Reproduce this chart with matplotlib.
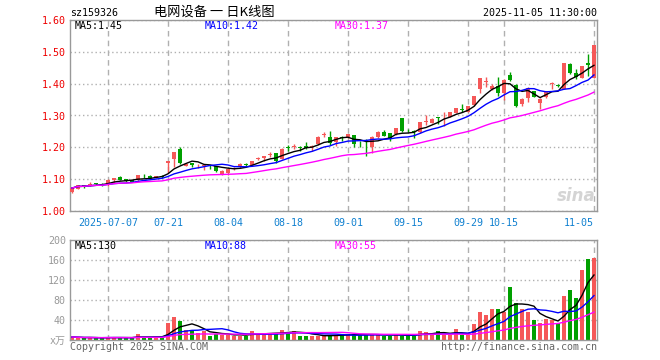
import numpy as np
import pandas as pd
import matplotlib
matplotlib.use("Agg")
import matplotlib.pyplot as plt

# trading days (National Day holiday 10-01..10-08 closed)
days = pd.bdate_range("2025-06-27", "2025-11-05")
days = days[(days < "2025-10-01") | (days > "2025-10-08")]

opens = [1.061, 1.070, 1.080, 1.083, 1.086, 1.085, 1.086, 1.096, 1.108, 1.101,
         1.096, 1.096, 1.111, 1.110, 1.105, 1.110, 1.150, 1.163, 1.194, 1.142,
         1.150, 1.143, 1.142, 1.145, 1.141, 1.117, 1.120, 1.133, 1.137, 1.149,
         1.143, 1.164, 1.166, 1.176, 1.181, 1.164, 1.201, 1.201, 1.200, 1.205,
         1.200, 1.210, 1.240, 1.231, 1.216, 1.232, 1.231, 1.239, 1.208, 1.205,
         1.200, 1.231, 1.249, 1.245, 1.242, 1.292, 1.255, 1.250, 1.247, 1.279,
         1.278, 1.294, 1.297, 1.296, 1.309, 1.321, 1.312, 1.332, 1.382, 1.406,
         1.382, 1.393, 1.372, 1.427, 1.395, 1.335, 1.356, 1.376, 1.340, 1.358,
         1.399, 1.396, 1.383, 1.463, 1.432, 1.419, 1.466, 1.419]
highs = [1.074, 1.083, 1.082, 1.090, 1.088, 1.087, 1.099, 1.105, 1.111, 1.102,
         1.097, 1.114, 1.115, 1.112, 1.110, 1.112, 1.157, 1.186, 1.201, 1.152,
         1.151, 1.148, 1.146, 1.146, 1.142, 1.128, 1.133, 1.137, 1.150, 1.150,
         1.158, 1.169, 1.174, 1.184, 1.182, 1.198, 1.207, 1.210, 1.205, 1.218,
         1.207, 1.236, 1.247, 1.252, 1.233, 1.237, 1.243, 1.240, 1.220, 1.226,
         1.236, 1.250, 1.255, 1.246, 1.261, 1.293, 1.258, 1.255, 1.281, 1.301,
         1.291, 1.296, 1.311, 1.312, 1.324, 1.335, 1.331, 1.362, 1.418, 1.422,
         1.398, 1.420, 1.414, 1.437, 1.400, 1.355, 1.390, 1.378, 1.355, 1.376,
         1.404, 1.400, 1.465, 1.465, 1.445, 1.456, 1.492, 1.521]
lows = [1.058, 1.068, 1.072, 1.080, 1.081, 1.080, 1.080, 1.088, 1.097, 1.092,
        1.090, 1.094, 1.104, 1.101, 1.103, 1.104, 1.118, 1.138, 1.147, 1.140,
        1.137, 1.134, 1.130, 1.133, 1.122, 1.114, 1.112, 1.130, 1.136, 1.140,
        1.141, 1.160, 1.158, 1.169, 1.150, 1.162, 1.190, 1.195, 1.190, 1.195,
        1.190, 1.208, 1.231, 1.208, 1.205, 1.221, 1.229, 1.200, 1.200, 1.174,
        1.183, 1.229, 1.235, 1.220, 1.240, 1.249, 1.248, 1.228, 1.245, 1.270,
        1.276, 1.273, 1.268, 1.294, 1.307, 1.312, 1.310, 1.330, 1.370, 1.388,
        1.380, 1.360, 1.350, 1.408, 1.328, 1.330, 1.343, 1.357, 1.320, 1.355,
        1.383, 1.388, 1.382, 1.430, 1.414, 1.418, 1.424, 1.418]
closes = [1.072, 1.082, 1.079, 1.085, 1.085, 1.083, 1.098, 1.104, 1.098, 1.093,
          1.092, 1.113, 1.109, 1.104, 1.109, 1.106, 1.156, 1.185, 1.150, 1.149,
          1.143, 1.145, 1.145, 1.142, 1.127, 1.127, 1.132, 1.135, 1.149, 1.143,
          1.158, 1.167, 1.172, 1.178, 1.158, 1.195, 1.199, 1.203, 1.198, 1.199,
          1.203, 1.234, 1.243, 1.213, 1.231, 1.230, 1.242, 1.210, 1.206, 1.203,
          1.234, 1.249, 1.236, 1.226, 1.260, 1.250, 1.253, 1.247, 1.280, 1.281,
          1.290, 1.293, 1.300, 1.311, 1.323, 1.318, 1.330, 1.361, 1.417, 1.409,
          1.393, 1.372, 1.413, 1.411, 1.330, 1.353, 1.386, 1.359, 1.353, 1.375,
          1.401, 1.393, 1.464, 1.432, 1.421, 1.455, 1.460, 1.520]
volumes = [6, 5, 4, 5, 4, 4, 6, 5, 5, 4,
           4, 12, 5, 5, 5, 5, 35, 47, 39, 20,
           20, 15, 19, 8, 12, 11, 11, 9, 9, 9,
           18, 12, 14, 12, 12, 20, 17, 19, 9, 8,
           8, 9, 9, 9, 10, 10, 12, 12, 10, 10,
           11, 11, 9, 9, 11, 9, 9, 9, 18, 16,
           11, 18, 11, 11, 22, 10, 11, 32, 56, 50,
           62, 62, 56, 106, 74, 62, 56, 40, 34, 42,
           40, 34, 88, 100, 84, 140, 162, 164]

tick_dates = ["2025-07-07", "2025-07-21", "2025-08-04", "2025-08-18", "2025-09-01",
              "2025-09-15", "2025-09-29", "2025-10-15", "2025-11-05"]
tick_labels = ["2025-07-07", "07-21", "08-04", "08-18", "09-01",
               "09-15", "09-29", "10-15", "11-05"]

RED = "#f55858"
GREEN = "#00a000"
GRID = "#b0b0b0"
MONO = ["DejaVu Sans Mono", "Noto Sans CJK SC"]

df = pd.DataFrame({"o": opens, "h": highs, "l": lows, "c": closes, "v": volumes}, index=days)
x = np.arange(len(df))
up = df.c >= df.o
colors = np.where(up, RED, GREEN)

ma = {n: df.c.rolling(n, min_periods=1).mean() for n in (5, 10, 30)}
vma = {n: df.v.rolling(n, min_periods=1).mean() for n in (5, 10, 30)}
ma_colors = {5: "black", 10: "#0000ff", 30: "#ff00ff"}


def trunc(v, nd):
    f = 10 ** nd
    return np.floor(v * f + 1e-9) / f


fig = plt.figure(figsize=(6.6, 3.6), dpi=100)
W, H = 660.0, 360.0
ax = fig.add_axes([70 / W, 1 - 211 / H, 527 / W, 191 / H])
axv = fig.add_axes([70 / W, 1 - 340 / H, 527 / W, 100 / H])

tick_pos = [days.get_loc(pd.Timestamp(d)) for d in tick_dates]
xlim = (-0.33, len(df) - 0.5)

for a in (ax, axv):
    a.set_xlim(*xlim)
    for s in a.spines.values():
        s.set_color("#999999")
        s.set_linewidth(1)
    a.set_xticks(tick_pos)
    a.tick_params(length=0)
    a.xaxis.grid(True, linestyle=(0, (4, 3)), color=GRID, lw=1)
    a.yaxis.grid(True, linestyle=(0, (1, 2)), color=GRID, lw=1)
    a.set_axisbelow(True)

# candles
body = np.maximum((df.c - df.o).abs(), 0.0025)
ax.vlines(x, df.l, df.h, colors=colors, lw=1, zorder=2)
ax.bar(x, body, bottom=np.minimum(df.o, df.c), width=0.8, color=colors, lw=0, zorder=3)
for n in (5, 10, 30):
    ax.plot(x, ma[n], color=ma_colors[n], lw=1, zorder=4)

ax.set_ylim(1.0, 1.6)
ax.set_yticks(np.round(np.arange(1.0, 1.61, 0.1), 2))
ax.set_yticklabels([f"{v:.2f}" for v in ax.get_yticks()], color="#ee0000",
                   family=MONO, fontsize=7.2)
ax.tick_params(axis="y", pad=3)
ax.set_xticklabels(tick_labels, color="#1080d0", family=MONO, fontsize=7.2)
ax.tick_params(axis="x", pad=5)
ax.get_xticklabels()[-1].set_horizontalalignment("right")
ax.get_xticklabels()[-1].set_x(tick_pos[-1] + 0.5)

# volume
axv.bar(x, df.v, width=0.8, color=colors, lw=0, zorder=2)
for n in (5, 10, 30):
    axv.plot(x, vma[n], color=ma_colors[n], lw=1, zorder=3)
axv.set_ylim(0, 200)
axv.set_yticks([0, 40, 80, 120, 160, 200])
axv.set_yticklabels(["x万", "40", "80", "120", "160", "200"], color="#999999",
                    family=MONO, fontsize=7.2)
axv.tick_params(axis="y", pad=3)
axv.set_xticklabels([])

# header texts
fig.text(70 / W, 1 - 13 / H, "sz159326", family=MONO, fontsize=7.2, va="center")
fig.text(214 / W, 1 - 12 / H, "电网设备 一 日K线图", family=["Noto Sans CJK SC", "DejaVu Sans"],
         fontsize=9.5, ha="center", va="center")
fig.text(597 / W, 1 - 13 / H, df.index[-1].strftime("%Y-%m-%d") + " 11:30:00",
         family=MONO, fontsize=7.2, ha="right", va="center")

for n, xp in zip((5, 10, 30), (75, 205, 335)):
    fig.text(xp / W, 1 - 26 / H, f"MA{n}:{trunc(ma[n].iloc[-1], 2):.2f}", color=ma_colors[n],
             family=MONO, fontsize=7.2, va="center")
    fig.text(xp / W, 1 - 246 / H, f"MA{n}:{int(vma[n].iloc[-1])}", color=ma_colors[n],
             family=MONO, fontsize=7.2, va="center")

ax.text(0.997, 0.03, "sina", transform=ax.transAxes, ha="right", va="bottom",
        fontsize=12, fontweight="bold", style="italic", color="#d4d4d4", zorder=1)

fig.text(70 / W, 1 - 347 / H, "Copyright 2025 SINA.COM", family=MONO, fontsize=7.2,
         color="#666666", va="center")
fig.text(597 / W, 1 - 347 / H, "http://finance.sina.com.cn", family=MONO, fontsize=7.2,
         color="#666666", ha="right", va="center")

fig.savefig("out.png", dpi=100)
